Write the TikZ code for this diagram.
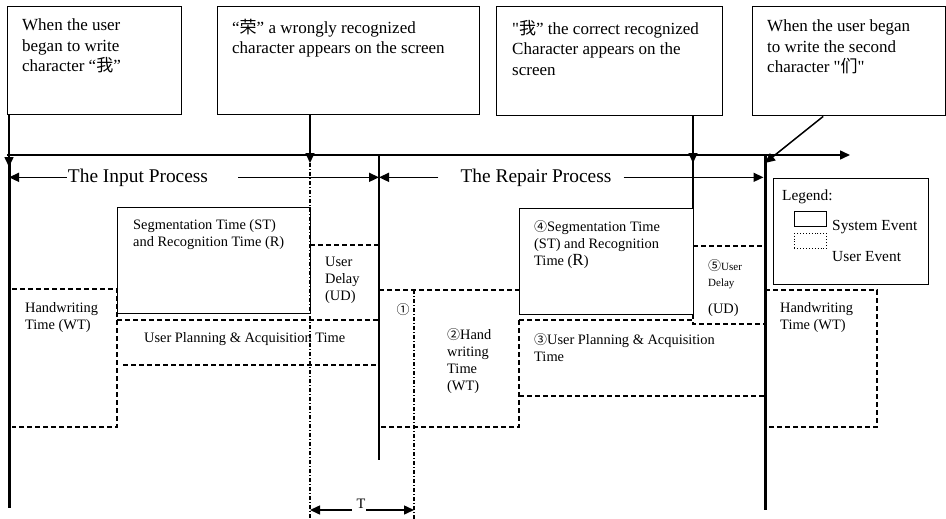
\documentclass[tikz,border=0pt]{standalone}
\usepackage{fontspec}
\setmainfont{Liberation Serif}[Ligatures=TeXOff]
\newfontfamily\cjk{Noto Sans CJK SC}
\usetikzlibrary{positioning,arrows.meta,calc}
\newcommand{\zh}[1]{{\cjk #1}}
\newcommand{\circno}[1]{{\cjk\fontsize{13}{13}\selectfont #1}}
\tikzset{
  >={Triangle[length=10pt,width=9pt]},
  every node/.style={inner sep=0pt},
  txt/.style={font=\fontsize{14.4}{17}\selectfont,align=left,anchor=north west},
  bigtxt/.style={font=\fontsize{17}{20.5}\selectfont,align=left,anchor=north west},
  proctxt/.style={font=\fontsize{19.4}{22}\selectfont,anchor=base},
  legtxt/.style={font=\fontsize{15.4}{17}\selectfont,anchor=base west},
  callout/.style={draw,line width=1.4pt,anchor=north west},
  sysbox/.style={draw,line width=1.4pt,anchor=north west},
  userline/.style={dash pattern=on 5pt off 3pt,line width=1.4pt},
  tline/.style={dash pattern=on 4pt off 2pt on 1pt off 2pt,line width=1.3pt},
  axisline/.style={line width=1.5pt},
  eventline/.style={line width=3pt}
}
\begin{document}
\begin{tikzpicture}[x=1pt,y=-1pt]
\useasboundingbox (0,0) rectangle (946,519);

% the four callouts
\node[callout,minimum width=174pt,minimum height=108pt] (start1) at (7,6) {};
\node[callout,minimum width=262pt,minimum height=108pt] (wrong) at (217,6) {};
\node[callout,minimum width=226pt,minimum height=109pt] (right) at (496,6) {};
\node[callout,minimum width=193pt,minimum height=109pt] (start2) at (752,6) {};
\node[bigtxt,below right=13pt and 15pt of start1.north west] (start1txt) {When the user\\began to write\\character “\zh{我}”};
\node[bigtxt,below right=13pt and 15pt of wrong.north west] (wrongtxt) {“\zh{荣}” a wrongly recognized\\character appears on the screen};
\node[bigtxt,below right=14pt and 16pt of right.north west] (righttxt) {"\zh{我}” the correct recognized\\Character appears on the\\screen};
\node[bigtxt,below right=14pt and 15pt of start2.north west] (start2txt) {When the user began\\to write the second\\character "\zh{们}"};

% time axis and events
\coordinate (t0) at (7,155);
\coordinate (tend) at (850,155);
\coordinate (e0) at (9,155);
\coordinate (e1) at (310,155);
\coordinate (e2) at (379,155);
\coordinate (e3) at (693,155);
\coordinate (e4) at (765,155);
\draw[axisline,->] (t0) -- (tend);
\draw[axisline,->] (start1.south west -| e0) -- ([yshift=-12pt]e0);
\draw[axisline,->] (wrong.south -| e1) -- ([yshift=-8pt]e1);
\draw[axisline,->] (right.south -| e3) -- ([yshift=-8pt]e3);
\draw[axisline,->] ([xshift=-26pt]start2.south) -- ([yshift=-8pt]e4);

% process labels
\node[proctxt] (inproc) at (138,182) {The Input Process};
\node[proctxt] (repproc) at (536,182) {The Repair Process};
\draw[axisline,->] ([xshift=-1pt]inproc.west) -- (inproc.west -| e0);
\draw[axisline,->] ([xshift=30pt]inproc.east) -- (inproc.east -| e2);
\draw[axisline,->] ([xshift=-22pt]repproc.west) -- (repproc.west -| e2);
\draw[axisline,->] ([xshift=12pt]repproc.east) -- ([xshift=-1.5pt]repproc.east -| e4);

% input process
\node[sysbox,minimum width=193pt,minimum height=106pt] (segin) at (117,207) {};
\node[txt,below right=12pt and 16pt of segin.north west] (segintxt) {Segmentation Time (ST)\\and Recognition Time (R)};
\draw[userline] (12,289) -| (117,427) -- (12,427);
\node[txt] (wrin) at (25,302) {Handwriting\\Time (WT)};
\draw[userline] (310,245) -- (379,245);
\draw[userline] (117,320) -- (379,320);
\draw[userline] (123,365) -- (379,365);
\node[txt] (udin) at (325,257) {User\\Delay\\(UD)};
\node[txt] (planin) at (144,332) {User Planning \& Acquisition Time};

% event lines
\draw[eventline] ([yshift=-6pt]e0) -- (9,508);
\draw[tline] ([yshift=-8pt]e1) -- (310,519);
\draw[axisline] (e2) -- (379,460);
\draw[eventline] (e4) -- (765,510);

% repair process
\node[sysbox,minimum width=174pt,minimum height=106pt] (segrep) at (519,208) {};
\draw[axisline] (e3) -- (e3 |- segrep.north);
\node[txt,below right=12pt and 15pt of segrep.north west] (segreptxt) {\circno{④}Segmentation Time\\(ST) and Recognition\\Time ({\fontsize{17}{17}\selectfont R})};
\draw[userline] (379,290) -- (segrep.west |- 0,290);
\draw[userline] (519,320) -- (519,427) -- (379,427);
\draw[tline] (414,290) -- (414,519);
\node (c1) at (403,310) {\circno{①}};
\node[txt] (wrrep) at (447,328) {\circno{②}Hand\\writing\\Time\\(WT)};
\draw[userline] (519,320) -- (693,320);
\draw[userline] (519,396) -- (765,396);
\node[txt] (planrep) at (534,333) {\circno{③}User Planning \& Acquisition\\Time};
\draw[userline] (693,246) -- (765,246);
\draw[userline] (693,314) |- (765,324);
\node[txt,font=\fontsize{11}{16}\selectfont] (udrep) at (708,259) {\circno{⑤}User\\Delay};
\node[txt,anchor=base west] (udreptxt) at (708,313) {(UD)};
\draw[userline] (765,290) -| (877,427) -- (765,427);
\node[txt] (wr2) at (780,302) {Handwriting\\Time (WT)};

% legend
\node[sysbox,minimum width=155pt,minimum height=106pt] (legend) at (773,178) {};
\node[legtxt] (legtitle) at (782,200) {Legend:};
\node[draw,line width=1.4pt,minimum width=32pt,minimum height=15pt,anchor=north west] (legsys) at (794,211) {};
\node[draw,dotted,line width=0.9pt,minimum width=32pt,minimum height=15pt,anchor=north west] (leguser) at (794,233) {};
\node[legtxt] (legsystxt) at (832,230) {System Event};
\node[legtxt] (legusertxt) at (832,261) {User Event};

% T between the two event lines
\coordinate (tl) at (310,510);
\coordinate (tr) at (414,510);
\node[font=\fontsize{14.4}{14.4}\selectfont,anchor=base] (tlab) at (361,508) {T};
\draw[axisline,<-] (tl) -- (352,510);
\draw[axisline,->] (366,510) -- (tr);
\end{tikzpicture}
\end{document}
